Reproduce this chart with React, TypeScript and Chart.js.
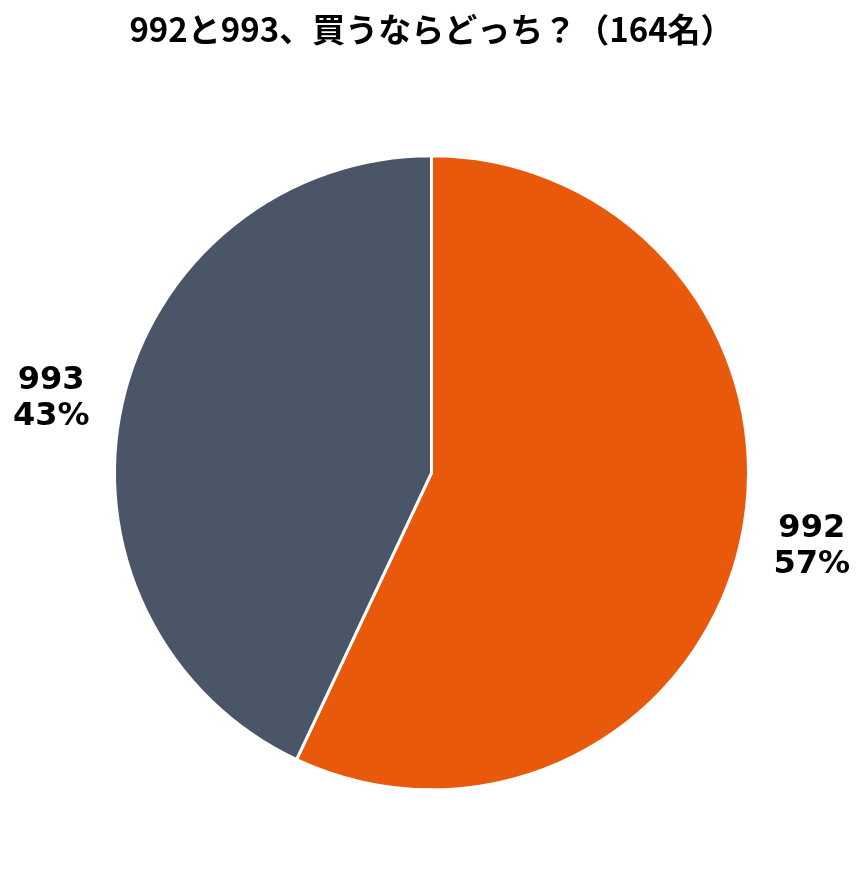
import React, { useEffect, useRef } from 'react';
import Chart from 'chart.js/auto';

const title = '992と993、買うならどっち？（164名）';
const labels = ['992', '993'];
const shares = [57, 43];
const colors = ['#E8590C', '#4A5568'];

const outsideLabels = {
  id: 'outsideLabels',
  afterDatasetsDraw(chart: any) {
    const { ctx } = chart;
    const meta = chart.getDatasetMeta(0);
    const total = shares.reduce((a, b) => a + b, 0);
    ctx.save();
    ctx.fillStyle = '#000';
    ctx.font = 'bold 32px "DejaVu Sans", sans-serif';
    ctx.textAlign = 'center';
    ctx.textBaseline = 'middle';
    meta.data.forEach((arc: any, i: number) => {
      const { x, y, startAngle, endAngle, outerRadius } = arc.getProps(
        ['x', 'y', 'startAngle', 'endAngle', 'outerRadius'],
        true
      );
      // labels sit a little above the slice's middle angle
      const mid = (startAngle + endAngle) / 2 - 0.028;
      const r = outerRadius * 1.222;
      const lx = x + Math.cos(mid) * r;
      const ly = y + Math.sin(mid) * r;
      const pct = Math.round((shares[i] / total) * 100) + '%';
      ctx.fillText(labels[i], lx, ly - 18);
      ctx.fillText(pct, lx, ly + 18);
    });
    ctx.restore();
  },
};

export default function App() {
  const canvasRef = useRef<HTMLCanvasElement>(null);
  const chartRef = useRef<Chart>();

  useEffect(() => {
    if (!canvasRef.current) return;
    chartRef.current?.destroy();
    chartRef.current = new Chart(canvasRef.current, {
      type: 'pie',
      data: {
        labels,
        datasets: [{
          data: shares,
          backgroundColor: colors,
          borderColor: '#fff',
          borderWidth: 3,
        }],
      },
      options: {
        animation: false,
        responsive: true,
        maintainAspectRatio: false,
        layout: { padding: { left: 113, right: 113, bottom: 93, top: 0 } },
        plugins: {
          legend: { display: false },
          tooltip: { enabled: false },
          title: {
            display: true,
            text: title,
            color: '#000',
            font: { size: 33, weight: 'bold', family: '"Noto Sans CJK JP", sans-serif' },
            padding: { top: 10, bottom: 104 },
          },
        },
      },
      plugins: [outsideLabels],
    });
    return () => { chartRef.current?.destroy(); };
  }, []);

  return (
    <div style={{ position: 'fixed', left: 0, top: 0, width: 863, height: 885, background: '#fff' }}>
      <canvas ref={canvasRef} />
    </div>
  );
}
